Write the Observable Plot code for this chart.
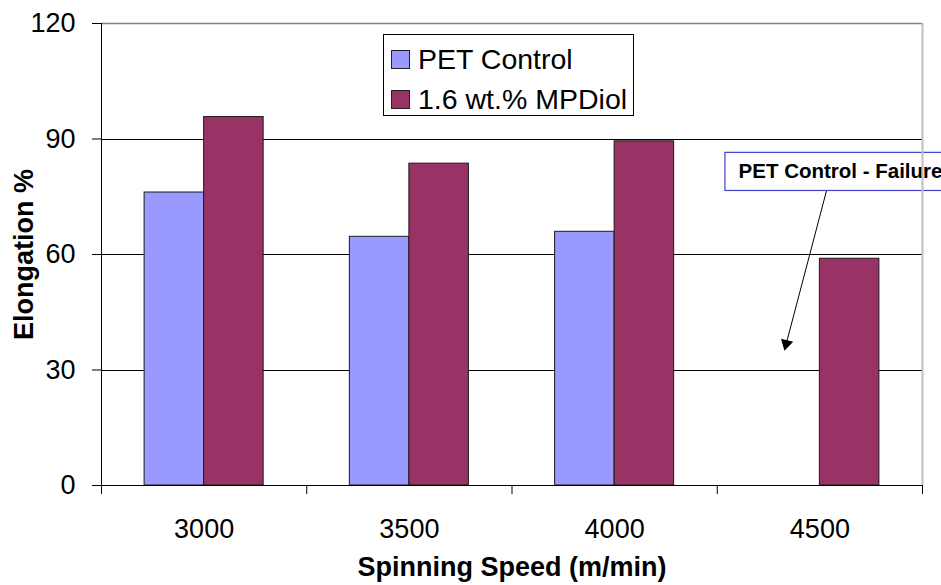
<!DOCTYPE html>
<html>
<head>
<meta charset="utf-8">
<script src="https://cdn.jsdelivr.net/npm/d3@7"></script>
<script src="https://cdn.jsdelivr.net/npm/@observablehq/plot@0.6"></script>
<style>
  html, body { margin: 0; padding: 0; background: white; overflow: hidden; }
  #wrap { position: relative; width: 941px; height: 585px; font-family: "Liberation Sans", Arial, sans-serif; }
  #legend { position: absolute; left: 383px; top: 34px; width: 251px; height: 82px; border: 1px solid #000; background: #fff; box-sizing: border-box; }
  .row { position: absolute; left: 7px; height: 30px; display: flex; align-items: center; font-size: 28.5px; color: #000; white-space: nowrap; }
  .sw { width: 17px; height: 17px; border: 1px solid #222; margin-right: 8px; flex: none; }
</style>
</head>
<body>
<div id="wrap"></div>
<script>
// ---- data ----
const speeds = [3000, 3500, 4000, 4500];
const petControl = [76.1, 64.6, 65.9, null];
const mpdiol = [95.7, 83.6, 89.4, 58.9];
const seriesNames = ["PET Control", "1.6 wt.% MPDiol"];
const seriesColors = ["#9999FF", "#993366"];
const yTicks = [0, 30, 60, 90, 120];
const xTitle = "Spinning Speed (m/min)";
const yTitle = "Elongation %";
const annotationLabel = "PET Control - Failure";

// ---- derived tables ----
const step = speeds[1] - speeds[0];
const xDomain = [speeds[0] - step / 2, speeds[speeds.length - 1] + step / 2];
const boundaries = speeds.map(s => s - step / 2).concat([xDomain[1]]);
const half = 145; // bar width in x units
const rows = [];
speeds.forEach((s, i) => {
  rows.push({speed: s, series: seriesNames[0], value: petControl[i], side: 0});
  rows.push({speed: s, series: seriesNames[1], value: mpdiol[i], side: 1});
});
const bars = rows.filter(d => d.value != null);

// annotation (data coordinates)
const annot = [{
  label: annotationLabel,
  bx1: 4270, bx2: 4990, by1: 76.5, by2: 86.4,
  tx: 4302, ty: 81.5,
  ax1: 4516, ay1: 76.5, ax2: 4418, ay2: 36.8
}];

const chart = Plot.plot({
  width: 941,
  height: 585,
  marginLeft: 101,
  marginRight: 19,
  marginTop: 23,
  marginBottom: 100,
  style: {fontFamily: "'Liberation Sans', Arial, sans-serif", fontSize: "27px", background: "white", color: "black", overflow: "visible"},
  x: {type: "linear", domain: xDomain, axis: null},
  y: {domain: [yTicks[0], yTicks[yTicks.length - 1]], axis: null},
  color: {domain: seriesNames, range: seriesColors},
  marks: [
    Plot.ruleY(yTicks.slice(1, -1), {stroke: "#000", strokeWidth: 1, shapeRendering: "crispEdges"}),
    Plot.ruleY([yTicks[yTicks.length - 1]], {stroke: "#808080", strokeWidth: 1.5}),
    Plot.rectY(bars, {
      x1: d => d.side === 0 ? d.speed - half : d.speed,
      x2: d => d.side === 0 ? d.speed : d.speed + half,
      y1: 0, y2: "value",
      fill: "series", stroke: "#1a1a1a", strokeWidth: 1
    }),
    Plot.ruleY([0], {stroke: "black", strokeWidth: 1, shapeRendering: "crispEdges"}),
    Plot.ruleX([xDomain[0]], {stroke: "black", strokeWidth: 1, shapeRendering: "crispEdges"}),
    Plot.axisY({ticks: yTicks, tickSize: 9, tickPadding: 17, tickFormat: d => String(d), label: null, stroke: "black", fill: "black"}),
    Plot.axisX({ticks: boundaries, tickSize: 9, tickFormat: () => "", label: null, stroke: "black"}),
    Plot.axisX({ticks: speeds, tickSize: 0, tickPadding: 33, tickFormat: d => String(d), label: null, fill: "black"}),
    Plot.text([xTitle], {text: d => d, frameAnchor: "bottom", lineAnchor: "middle", textAnchor: "middle", dy: 82, fontWeight: "bold", fontSize: 27, fill: "black"}),
    Plot.text([yTitle], {text: d => d, frameAnchor: "left", rotate: -90, textAnchor: "middle", lineAnchor: "middle", dx: -77, fontWeight: "bold", fontSize: 27, fill: "black"}),
    // annotation
    Plot.rect(annot, {x1: d => d.bx1, x2: d => d.bx2, y1: d => d.by1, y2: d => d.by2, fill: "white", stroke: "#4040cc", strokeWidth: 1.2}),
    Plot.text(annot, {x: d => d.tx, y: d => d.ty, text: d => d.label, textAnchor: "start", fontWeight: "bold", fontSize: 20.5, fill: "black"}),
    Plot.link(annot, {x1: d => d.ax1, y1: d => d.ay1, x2: d => d.ax2, y2: d => d.ay2, stroke: "black", strokeWidth: 1}),
    Plot.dot(annot, {x: d => d.ax2, y: d => d.ay2, symbol: "triangle2", r: 6, fill: "black", stroke: "none", rotate: 194}),
    Plot.ruleX([xDomain[1]], {y1: 0, y2: yTicks[yTicks.length - 1], stroke: "#c0c0c0", strokeWidth: 2})
  ]
});

const wrap = document.getElementById("wrap");
wrap.appendChild(chart);

// legend overlay
const legend = document.createElement("div");
legend.id = "legend";
seriesNames.forEach((name, i) => {
  const row = document.createElement("div");
  row.className = "row";
  row.style.top = (9 + i * 40) + "px";
  const sw = document.createElement("span");
  sw.className = "sw";
  sw.style.background = seriesColors[i];
  const t = document.createElement("span");
  t.textContent = name;
  row.appendChild(sw);
  row.appendChild(t);
  legend.appendChild(row);
});
wrap.appendChild(legend);
</script>
</body>
</html>
